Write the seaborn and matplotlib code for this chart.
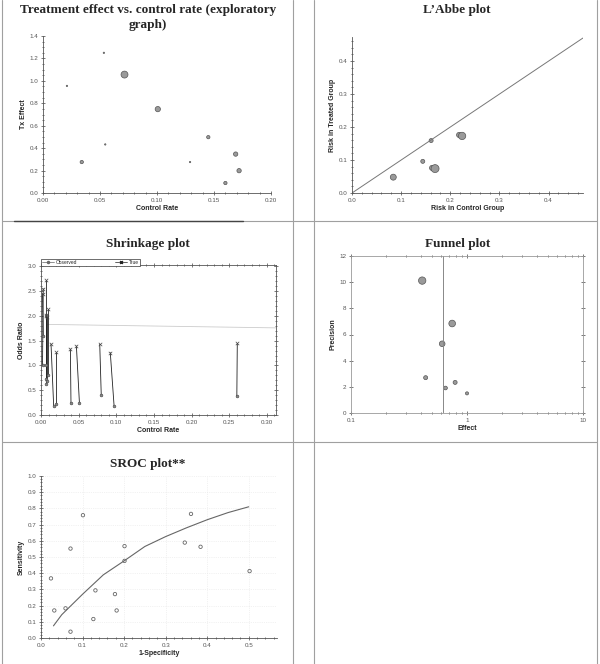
import seaborn as sns
import matplotlib.pyplot as plt
import pandas as pd
import numpy as np
from matplotlib.lines import Line2D
from matplotlib.ticker import MultipleLocator

# --- data ---
# treatment effect vs control rate
tx_rate = [0.021, 0.0534, 0.0715, 0.034, 0.0546, 0.1007, 0.129, 0.145, 0.169, 0.172, 0.160]
tx_effect = [0.955, 1.25, 1.056, 0.276, 0.433, 0.748, 0.276, 0.498, 0.347, 0.199, 0.089]
tx_weight = [0.04, 0.04, 1.0, 0.23, 0.04, 0.58, 0.04, 0.23, 0.39, 0.39, 0.23]

# L'Abbe
lab_control = [0.084, 0.144, 0.161, 0.163, 0.169, 0.218, 0.224]
lab_treated = [0.048, 0.096, 0.159, 0.076, 0.074, 0.176, 0.173]
lab_weight = [0.53, 0.24, 0.24, 0.40, 0.94, 0.40, 0.80]

# shrinkage
shr_true_x = [0.002, 0.003, 0.006, 0.007, 0.009, 0.006, 0.008,
              0.0133, 0.0204, 0.039, 0.047, 0.078, 0.092, 0.2606]
shr_true_y = [2.45, 2.55, 2.72, 2.02, 2.14, 2.0, 1.98,
              1.433, 1.266, 1.333, 1.393, 1.427, 1.259, 1.447]
shr_obs_x = [0.003, 0.002, 0.006, 0.007, 0.009, 0.006, 0.008,
             0.0168, 0.0204, 0.0398, 0.051, 0.080, 0.097, 0.260]
shr_obs_y = [1.6, 1.0, 0.72, 0.62, 0.80, 1.0, 0.68,
             0.19, 0.228, 0.248, 0.248, 0.395, 0.19, 0.382]
pooled_x = [0.008, 0.312]
pooled_y = [1.83, 1.76]

# funnel
fun_effect = [0.411, 0.745, 0.611, 0.44, 0.79, 0.653, 1.0]
fun_precision = [10.12, 6.84, 5.29, 2.70, 2.34, 1.91, 1.50]
fun_weight = [1.0, 0.82, 0.59, 0.30, 0.30, 0.25, 0.18]
fun_pooled = 0.624

# SROC
sroc_fpr = [0.024, 0.032, 0.059, 0.071, 0.071, 0.101, 0.126, 0.131,
            0.178, 0.182, 0.201, 0.201, 0.346, 0.361, 0.384, 0.502]
sroc_sens = [0.368, 0.170, 0.183, 0.039, 0.552, 0.758, 0.117, 0.294,
             0.271, 0.170, 0.567, 0.476, 0.589, 0.766, 0.563, 0.413]
curve_fpr = [0.03, 0.05, 0.1, 0.15, 0.2, 0.25, 0.3, 0.35, 0.4, 0.45, 0.5]
curve_sens = [0.075, 0.144, 0.27, 0.39, 0.476, 0.565, 0.626, 0.68, 0.73, 0.774, 0.81]

sns.set_style("white")
plt.rcParams['font.family'] = ['Liberation Sans', 'DejaVu Sans']

W, H = 600, 664
fig = plt.figure(figsize=(6, 6.64), dpi=100)


def px_axes(l, t, r, b):
    return fig.add_axes([l / W, 1 - b / H, (r - l) / W, (b - t) / H])


def style(ax, box=False, spine='#555555'):
    for s in ['left', 'bottom', 'top', 'right']:
        ax.spines[s].set_visible(box or s in ('left', 'bottom'))
        ax.spines[s].set_color(spine)
        ax.spines[s].set_linewidth(0.6)
    ax.tick_params(which='both', direction='inout', colors='#444444', width=0.5,
                   labelsize=4.5, labelcolor='#555555', pad=2,
                   top=box, right=box, bottom=True, left=True)
    ax.tick_params(which='major', length=2.5)
    ax.tick_params(which='minor', length=1.8)
    ax.xaxis.label.set_size(5)
    ax.yaxis.label.set_size(5)
    ax.xaxis.label.set_weight('bold')
    ax.yaxis.label.set_weight('bold')
    ax.xaxis.labelpad = 2
    ax.yaxis.labelpad = 2


def title(x, y, s):
    fig.text(x / W, 1 - y / H, s, ha='center', va='center', fontsize=9.5,
             fontweight='bold', family=['Liberation Serif', 'DejaVu Serif'])


fill, edge = '#9a9a9a', '#555555'

# --- 1: treatment effect vs control rate ---
ax1 = px_axes(43, 36, 271, 193)
d1 = pd.DataFrame({'rate': tx_rate, 'eff': tx_effect, 'w': tx_weight})
sns.scatterplot(data=d1, x='rate', y='eff', size='w', sizes=(0, 25), size_norm=(0, 1),
                color=fill, edgecolor=edge, linewidth=0.5, legend=False, ax=ax1)
ax1.set_xlim(0, 0.2)
ax1.set_ylim(0, 1.4)
ax1.xaxis.set_major_locator(MultipleLocator(0.05))
ax1.xaxis.set_minor_locator(MultipleLocator(0.01))
ax1.yaxis.set_major_locator(MultipleLocator(0.2))
ax1.yaxis.set_minor_locator(MultipleLocator(0.05))
ax1.xaxis.set_major_formatter(lambda v, p: f'{v:.2f}')
ax1.yaxis.set_major_formatter(lambda v, p: f'{v:.1f}')
ax1.set(xlabel='Control Rate', ylabel='Tx Effect')
style(ax1)
title(148, 10, 'Treatment effect vs. control rate (exploratory')
title(148, 25, 'graph)')

# --- 2: L'Abbe ---
ax2 = px_axes(352, 37, 583, 193)
d2 = pd.DataFrame({'c': lab_control, 't': lab_treated, 'w': lab_weight})
ax2.plot([0, 0.47], [0, 0.47], color='#777777', lw=0.7)
sns.scatterplot(data=d2, x='c', y='t', size='w', sizes=(0, 35), size_norm=(0, 1),
                color=fill, edgecolor=edge, linewidth=0.5, legend=False, ax=ax2)
ax2.set_xlim(0, 0.47)
ax2.set_ylim(0, 0.473)
ax2.xaxis.set_major_locator(MultipleLocator(0.1))
ax2.xaxis.set_minor_locator(MultipleLocator(0.02))
ax2.yaxis.set_major_locator(MultipleLocator(0.1))
ax2.yaxis.set_minor_locator(MultipleLocator(0.02))
ax2.xaxis.set_major_formatter(lambda v, p: f'{v:.1f}')
ax2.yaxis.set_major_formatter(lambda v, p: f'{v:.1f}')
ax2.set(xlabel='Risk in Control Group', ylabel='Risk in Treated Group')
style(ax2)
title(457, 10, 'L\u2019Abbe plot')

# --- 3: shrinkage ---
ax3 = px_axes(41, 265, 276, 415)
n = len(shr_true_x)
d3 = pd.DataFrame({'study': list(range(n)) * 2,
                   'x': shr_obs_x + shr_true_x,
                   'y': shr_obs_y + shr_true_y,
                   'kind': ['Observed'] * n + ['True'] * n})
ax3.plot(pooled_x, pooled_y, color='#cccccc', lw=0.6)
sns.lineplot(data=d3, x='x', y='y', units='study', estimator=None, sort=False,
             color='#222222', lw=0.6, ax=ax3)
obs = d3[d3.kind == 'Observed']
tru = d3[d3.kind == 'True']
ax3.scatter(obs.x, obs.y, s=4, marker='o', color='#888888', edgecolor='#444444', lw=0.4, zorder=3)
ax3.scatter(tru.x, tru.y, s=6, marker='x', color='#444444', lw=0.5, zorder=3)
ax3.set_xlim(0, 0.312)
ax3.set_ylim(0, 3.03)
ax3.xaxis.set_major_locator(MultipleLocator(0.05))
ax3.xaxis.set_minor_locator(MultipleLocator(0.01))
ax3.yaxis.set_major_locator(MultipleLocator(0.5))
ax3.yaxis.set_minor_locator(MultipleLocator(0.1))
ax3.xaxis.set_major_formatter(lambda v, p: f'{v:.2f}')
ax3.yaxis.set_major_formatter(lambda v, p: f'{v:.1f}')
ax3.set(xlabel='Control Rate', ylabel='Odds Ratio')
style(ax3, box=True)
handles = [Line2D([], [], color='#666666', lw=0.5, marker='o', ms=1.5, mfc='#888888'),
           Line2D([], [], color='#222222', lw=0.5, marker='x', ms=2)]
ax3.legend(handles, ['Observed', 'True'], loc='lower left', bbox_to_anchor=(0, 0.995, 0.42, 0.06),
           mode='expand', ncol=2, fontsize=3.5, frameon=True, fancybox=False,
           edgecolor='#333333', framealpha=1, borderpad=0.15, handlelength=2.5,
           handletextpad=0.4, borderaxespad=0).get_frame().set_linewidth(0.5)
title(148, 244, 'Shrinkage plot')

# --- 4: funnel ---
ax4 = px_axes(351, 256, 583, 413)
d4 = pd.DataFrame({'e': fun_effect, 'p': fun_precision, 'w': fun_weight})
ax4.axvline(fun_pooled, color='#888888', lw=0.7)
sns.scatterplot(data=d4, x='e', y='p', size='w', sizes=(0, 28), size_norm=(0, 1),
                color=fill, edgecolor=edge, linewidth=0.5, legend=False, ax=ax4)
ax4.set_xscale('log')
ax4.set_xlim(0.1, 10)
ax4.set_ylim(0, 12)
ax4.yaxis.set_major_locator(MultipleLocator(2))
ax4.xaxis.set_major_formatter(lambda v, p: f'{v:g}')
ax4.set(xlabel='Effect', ylabel='Precision')
style(ax4, box=True, spine='#999999')
title(458, 244, 'Funnel plot')

# --- 5: SROC ---
ax5 = px_axes(41, 476, 277, 638)
d5 = pd.DataFrame({'fpr': sroc_fpr, 'sens': sroc_sens})
dc = pd.DataFrame({'fpr': curve_fpr, 'sens': curve_sens})
sns.lineplot(data=dc, x='fpr', y='sens', color='#666666', lw=0.8, ax=ax5)
sns.scatterplot(data=d5, x='fpr', y='sens', s=6, facecolor='none', edgecolor='#666666',
                linewidth=0.6, ax=ax5)
ax5.set_xlim(0, 0.568)
ax5.set_ylim(0, 1.0)
ax5.xaxis.set_major_locator(MultipleLocator(0.1))
ax5.xaxis.set_minor_locator(MultipleLocator(0.02))
ax5.yaxis.set_major_locator(MultipleLocator(0.1))
ax5.yaxis.set_minor_locator(MultipleLocator(0.02))
ax5.xaxis.set_major_formatter(lambda v, p: f'{v:.1f}')
ax5.yaxis.set_major_formatter(lambda v, p: f'{v:.1f}')
ax5.grid(True, which='major', color='#e6e6e6', lw=0.5, ls=':')
ax5.set(xlabel='1-Specificity', ylabel='Sensitivity')
style(ax5)
title(148, 464, 'SROC plot**')

# --- table borders ---
def fline(x0, y0, x1, y1, c='#a0a0a0', lw=0.8):
    fig.add_artist(Line2D([x0 / W, x1 / W], [1 - y0 / H, 1 - y1 / H], color=c, lw=lw))

for x in (2, 293, 314, 597):
    fline(x, 0, x, H)
for y in (221, 442):
    fline(2, y, 597, y)
fline(14, 221, 243, 221, c='#444444', lw=1.0)

fig.savefig('out.png', dpi=100)
